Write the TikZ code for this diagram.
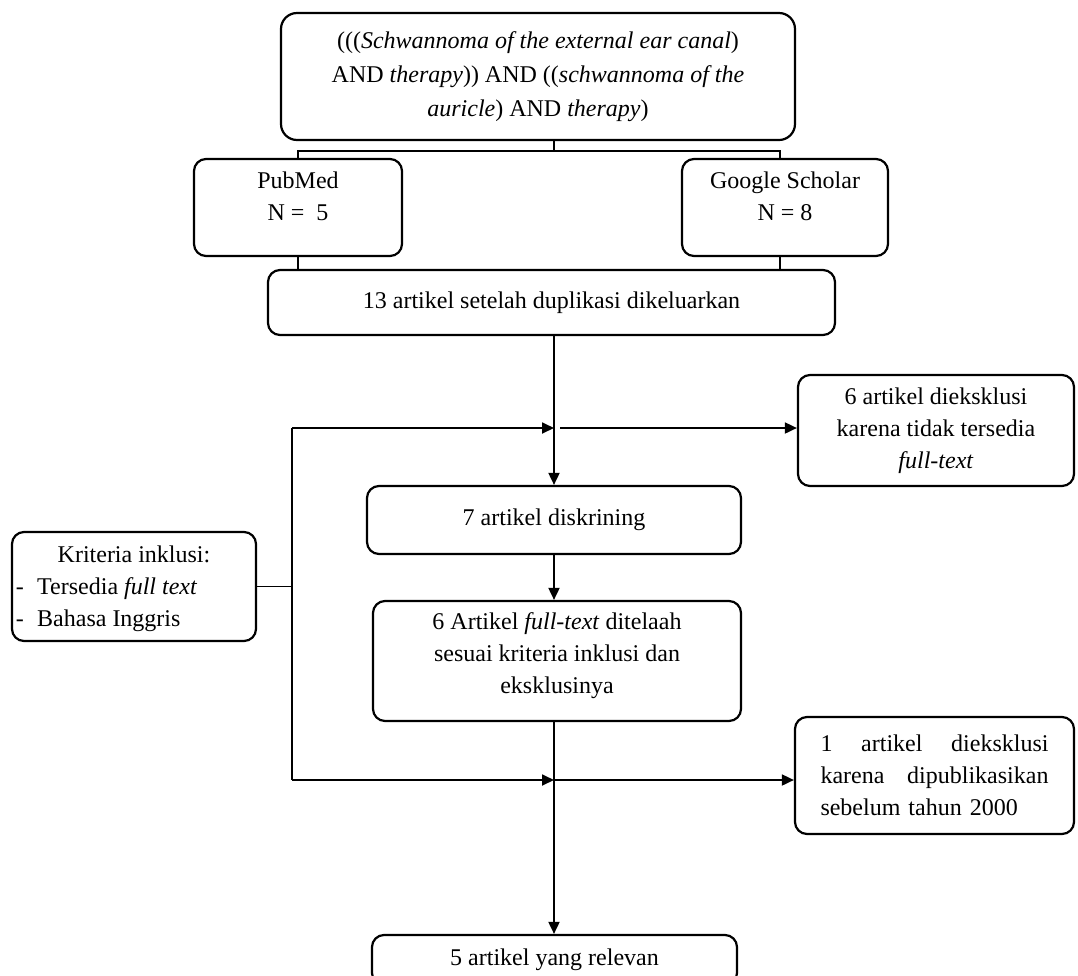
\documentclass[tikz,border=0pt]{standalone}
\usepackage{fontspec}
\setmainfont{Liberation Serif}
\usetikzlibrary{arrows.meta}

\tikzset{
  kotak/.style={draw,rounded corners=6pt,line width=1.1pt,align=center,inner sep=2pt},
  garis/.style={line width=0.9pt},
}

\begin{document}
\begin{tikzpicture}[>={Triangle[length=6pt,width=5.5pt]},x=0.5pt,y=-0.5pt,font=\fontsize{12}{16}\selectfont]
  \clip (0,0) rectangle (1078,976);

  % 方框
  \node[kotak,rounded corners=8pt,font=\fontsize{12}{17}\selectfont,minimum width=257pt,minimum height=63.5pt] (query) at (538,76.5)
    {(((\textit{Schwannoma of the external ear canal})\\
     AND \textit{therapy})) AND ((\textit{schwannoma of the}\\
     \textit{auricle}) AND \textit{therapy})};
  \node[kotak,text depth=11.5pt,minimum width=104pt,minimum height=48.5pt] (pubmed) at (298,207.5) {PubMed\\N =\ \ 5};
  \node[kotak,text depth=11.5pt,minimum width=103pt,minimum height=48.5pt] (scholar) at (785,207.5) {Google Scholar\\N = 8};
  \node[kotak,minimum width=283.5pt,minimum height=32.5pt] (dedup) at (551.5,302.5) {13 artikel setelah duplikasi dikeluarkan};
  \node[kotak,minimum width=138pt,minimum height=55.5pt] (excl1) at (936,430.5)
    {6 artikel dieksklusi\\karena tidak tersedia\\\textit{full-text}};
  \node[kotak,minimum width=187pt,minimum height=34pt] (screen) at (554,520) {7 artikel diskrining};
  \node[kotak,text depth=8.1pt,minimum width=184pt,minimum height=60pt] (fulltext) at (557,661)
    {6 Artikel \textit{full-text} ditelaah\\sesuai kriteria inklusi dan\\eksklusinya};
  \node[kotak,align=left,text depth=-5.4pt,minimum width=122pt,minimum height=54.5pt] (incl) at (134,586.5)
    {\makebox[118pt]{Kriteria inklusi:}\\
     -\hspace{0.55em}Tersedia \textit{full text}\\
     -\hspace{0.55em}Bahasa Inggris};
  \node[kotak,align=left,text width=114pt,inner xsep=12.75pt,minimum height=58.5pt] (excl2) at (934.5,775.5)
    {1\hfill artikel\hfill dieksklusi\\karena\hfill dipublikasikan\\sebelum tahun 2000};
  \node[kotak,minimum width=182.5pt,minimum height=25pt] (relevant) at (554.5,960) {5 artikel yang relevan};

  % 连接点
  \coordinate (qs) at (554,151);
  \coordinate (gs) at (780,151);
  \coordinate (j1) at (554,428);
  \coordinate (j1r) at (560,428);
  \coordinate (j2) at (554,780);
  \coordinate (lx1) at (292,428);
  \coordinate (lx2) at (292,780);

  % 上部连线
  \draw[line width=0.6pt] (query.south -| qs) -- (qs);
  \draw[line width=0.6pt] (pubmed.north) |- (gs) -- (gs |- scholar.north);
  \draw[line width=0.6pt] (pubmed.south) -- (pubmed.south |- dedup.north);
  \draw[line width=0.6pt] (gs |- scholar.south) -- (gs |- dedup.north);

  % 箭头
  \draw[garis,->] (dedup.south -| screen) -- (screen.north);
  \draw[garis,->] (screen.south) -- (screen.south |- fulltext.north);
  \draw[garis,->] (fulltext.south -| j2) -- (relevant.north -| j2);
  \draw[garis,->] (lx1) -- (j1);
  \draw[garis,->] (j1r) -- (j1r -| excl1.west);
  \draw[garis,->] (lx2) -- (j2);
  \draw[garis,->] (j2) -- (j2 -| excl2.west);
  \draw[garis] (lx1) -- (lx2);
  \draw[garis] (incl.east) -- (incl.east -| lx1);
\end{tikzpicture}
\end{document}
